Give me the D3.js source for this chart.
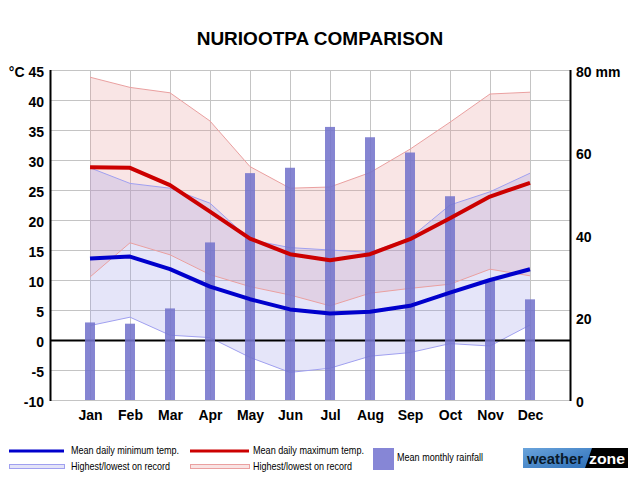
<!DOCTYPE html>
<html><head><meta charset="utf-8">
<script src="https://cdn.jsdelivr.net/npm/d3@7"></script>
<style>body{margin:0;background:#fff}svg{display:block}</style>
</head><body>
<svg id="c" width="640" height="480"></svg>
<script>
const months = ["Jan","Feb","Mar","Apr","May","Jun","Jul","Aug","Sep","Oct","Nov","Dec"];
const meanMin = [13.6,13.9,11.8,8.9,6.8,5.1,4.4,4.7,5.7,7.9,10.0,11.8];
const meanMax = [28.8,28.7,25.8,21.4,16.9,14.3,13.3,14.3,16.8,20.3,23.9,26.2];
const recHighMax = [43.8,42.1,41.2,36.5,28.9,25.3,25.5,27.9,31.8,36.3,41.0,41.3];
const recLowMax = [10.5,16.2,14.2,10.9,8.9,7.5,5.7,7.8,8.6,9.3,11.8,10.7];
const recHighMin = [28.7,26.1,25.3,22.8,16.7,15.4,15.0,14.6,17.0,22.5,24.7,27.8];
const recLowMin = [2.4,3.8,0.8,0.4,-2.9,-5.4,-4.7,-2.7,-2.1,-0.6,-1.0,2.5];
const rainfall = [18.8,18.5,22.2,38.2,55.0,56.3,66.2,63.7,60.0,49.4,29.0,24.4];
const tempTicks = [-10,-5,0,5,10,15,20,25,30,35,40,45];
const rainTicks = [0,20,40,60,80];

const svg = d3.select("#c");
const font = "'Liberation Sans', Arial, sans-serif";
const L = 50, R = 570, T = 70, B = 400;
const x = d3.scalePoint().domain(months).range([L, R]).padding(1);
const yT = d3.scaleLinear().domain([-10,45]).range([B, T]);
const yR = d3.scaleLinear().domain([0,80]).range([B, T]);

// title
svg.append("text").attr("x",320).attr("y",45).attr("text-anchor","middle")
  .attr("font-family",font).attr("font-weight","bold").attr("font-size",19)
  .text("NURIOOTPA COMPARISON");

// grid
const g = svg.append("g");
g.selectAll("line.h").data(tempTicks).join("line")
  .attr("x1",L).attr("x2",R).attr("y1",d=>yT(d)+0.5).attr("y2",d=>yT(d)+0.5)
  .attr("stroke","#c4c4c4").attr("stroke-width",1);
g.selectAll("line.v").data(months).join("line")
  .attr("x1",d=>x(d)+0.5).attr("x2",d=>x(d)+0.5).attr("y1",T).attr("y2",B)
  .attr("stroke","#c4c4c4").attr("stroke-width",1);

// record areas
const idx = d3.range(months.length);
const areaGen = (hi, lo) => d3.area().x(i=>x(months[i])).y0(i=>yT(lo[i])).y1(i=>yT(hi[i]));
const lineGen = arr => d3.line().x(i=>x(months[i])).y(i=>yT(arr[i]));
svg.append("path").attr("d", areaGen(recHighMax, recLowMax)(idx))
  .attr("fill","rgb(232,150,150)").attr("fill-opacity",0.25);
svg.append("path").attr("d", areaGen(recHighMin, recLowMin)(idx))
  .attr("fill","rgb(150,150,230)").attr("fill-opacity",0.25);
[recHighMax, recLowMax].forEach(a => svg.append("path").attr("d", lineGen(a)(idx))
  .attr("fill","none").attr("stroke","#eaa0a0").attr("stroke-width",1));
[recHighMin, recLowMin].forEach(a => svg.append("path").attr("d", lineGen(a)(idx))
  .attr("fill","none").attr("stroke","#a0a0f0").attr("stroke-width",1));

// zero line
svg.append("line").attr("x1",L).attr("x2",R).attr("y1",yT(0)+0.5).attr("y2",yT(0)+0.5)
  .attr("stroke","#000").attr("stroke-width",2);

// bars
svg.selectAll("rect.bar").data(rainfall).join("rect").attr("class","bar")
  .attr("x",(d,i)=>x(months[i])-5).attr("width",10)
  .attr("y",d=>yR(d)).attr("height",d=>B-yR(d))
  .attr("fill","#7474cc").attr("fill-opacity",0.88);

// mean lines
svg.append("path").attr("d", lineGen(meanMax)(idx)).attr("fill","none")
  .attr("stroke","#cc0000").attr("stroke-width",4).attr("stroke-linejoin","round");
svg.append("path").attr("d", lineGen(meanMin)(idx)).attr("fill","none")
  .attr("stroke","#0000cc").attr("stroke-width",4).attr("stroke-linejoin","round");

// axes lines
svg.append("line").attr("x1",L+0.5).attr("x2",L+0.5).attr("y1",T).attr("y2",B+1)
  .attr("stroke","#000").attr("stroke-width",2);
svg.append("line").attr("x1",R+0.5).attr("x2",R+0.5).attr("y1",T).attr("y2",B+1)
  .attr("stroke","#000").attr("stroke-width",2);

// axes labels
const axL = d3.axisLeft(yT).tickValues(tempTicks).tickSize(0).tickPadding(0)
  .tickFormat(d => d===45 ? "°C 45" : String(d));
const gl = svg.append("g").attr("transform",`translate(${L-6},2)`).call(axL);
const axRt = d3.axisRight(yR).tickValues(rainTicks).tickSize(0).tickPadding(0)
  .tickFormat(d => d===80 ? "80 mm" : String(d));
const gr = svg.append("g").attr("transform",`translate(${R+6},2)`).call(axRt);
const axB = d3.axisBottom(x).tickSize(0).tickPadding(0);
const gb = svg.append("g").attr("transform",`translate(0,${B+10})`).call(axB);
[gl,gr,gb].forEach(a=>{
  a.select(".domain").remove();
  a.selectAll("text").attr("font-family",font).attr("font-weight","bold")
   .attr("font-size",14).attr("fill","#000");
});

// legend
const lg = svg.append("g").attr("font-family",font).attr("font-size",11).attr("fill","#000");
function legText(xx, yy, t, w){
  lg.append("text").attr("x",xx).attr("y",yy).attr("dy","0.35em").text(t)
    .attr("textLength",w).attr("lengthAdjust","spacingAndGlyphs");
}
lg.append("line").attr("x1",9).attr("x2",64).attr("y1",451).attr("y2",451).attr("stroke","#0000cc").attr("stroke-width",3);
legText(71,450,"Mean daily minimum temp.",108);
lg.append("rect").attr("x",9.5).attr("y",464.5).attr("width",55).attr("height",4)
  .attr("fill","#e3e3f8").attr("stroke","#a0a0f0");
legText(71,466,"Highest/lowest on record",99);
lg.append("line").attr("x1",190).attr("x2",249).attr("y1",451).attr("y2",451).attr("stroke","#cc0000").attr("stroke-width",3);
legText(253,450,"Mean daily maximum temp.",111);
lg.append("rect").attr("x",190.5).attr("y",464.5).attr("width",59).attr("height",4)
  .attr("fill","#f9e3e3").attr("stroke","#eaa0a0");
legText(253,466,"Highest/lowest on record",99);
lg.append("rect").attr("x",373).attr("y",448).attr("width",21).attr("height",22).attr("fill","#8686d6");
legText(397,457,"Mean monthly rainfall",86);

// logo
const defs = svg.append("defs");
const grad = defs.append("linearGradient").attr("id","lg1").attr("x1","0").attr("x2","1").attr("y1","0").attr("y2","1");
grad.append("stop").attr("offset","0").attr("stop-color","#6aa4dc");
grad.append("stop").attr("offset","1").attr("stop-color","#2d6fb8");
svg.append("rect").attr("x",523).attr("y",448).attr("width",105).attr("height",20).attr("fill","#000");
svg.append("path").attr("d","M523,448 L592,448 L585,468 L523,468 Z").attr("fill","url(#lg1)");
svg.append("text").attr("x",527).attr("y",464).attr("font-family",font).attr("font-weight","bold")
  .attr("font-size",15).attr("fill","#0a1a2a").text("weather")
  .attr("textLength",56).attr("lengthAdjust","spacingAndGlyphs");
svg.append("text").attr("x",589).attr("y",464).attr("font-family",font).attr("font-weight","bold")
  .attr("font-size",15).attr("fill","#fff").text("zone")
  .attr("textLength",36).attr("lengthAdjust","spacingAndGlyphs");
</script>
</body></html>
